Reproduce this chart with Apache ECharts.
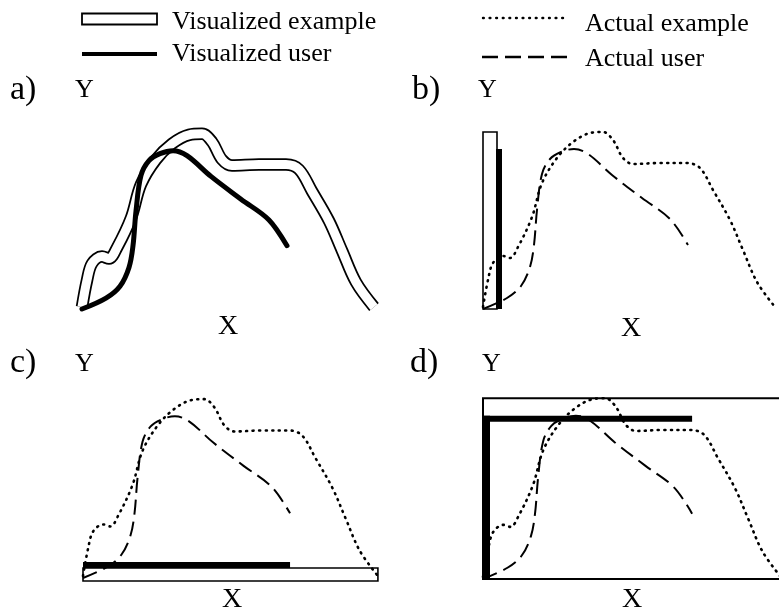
<!DOCTYPE html>
<html>
<head>
<meta charset="utf-8">
<script src="https://cdn.jsdelivr.net/npm/echarts@6/dist/echarts.min.js"></script>
<style>
  html, body { margin: 0; padding: 0; background: #fff; }
  #main { width: 779px; height: 611px; }
</style>
</head>
<body>
<div id="main"></div>
<script>
// example path, read off panel b) (x right, y up)
var exampleX = [0, 5, 10, 20, 27, 35, 49, 59, 74, 90, 107, 120, 130, 140, 150, 177, 204, 217, 230, 247, 260, 274, 292];
var exampleY = [2, 29, 46, 53, 51, 62, 92, 126, 151, 167, 176, 177, 169, 151, 145, 146, 146, 141, 119, 89, 59, 27, 2];
// user path
var userX = [0, 24, 38, 47, 51, 54, 59, 67, 78, 91, 105, 129, 159, 187, 205];
var userY = [0, 11, 23, 42, 64, 99, 135, 150, 157, 160, 155, 134, 111, 90, 64];
var panelNames = ['a)', 'b)', 'c)', 'd)'];
var axisNames = ['X', 'Y'];
var legendNames = ['Visualized example', 'Visualized user', 'Actual example', 'Actual user'];

function pairs(xs, ys) {
    return xs.map(function (x, i) { return [x, ys[i]]; });
}
var exampleData = pairs(exampleX, exampleY);
var userData = pairs(userX, userY);
var exMaxX = Math.max.apply(null, exampleX);
var exMaxY = Math.max.apply(null, exampleY);
var usMaxX = Math.max.apply(null, userX);
var usMaxY = Math.max.apply(null, userY);

var FONT = '"Liberation Serif", "Times New Roman", serif';

var grids = [
    { left: 82, top: 121, width: 300, height: 188 },
    { left: 483, top: 119, width: 300, height: 190 },
    { left: 83, top: 386, width: 303, height: 192 },
    { left: 483, top: 385, width: 306, height: 194 }
].map(function (g) {
    g.outerBoundsMode = 'none';
    g.containLabel = false;
    return g;
});

var xAxes = grids.map(function (g, i) {
    return { type: 'value', gridIndex: i, min: 0, max: 300, show: false };
});
var yAxes = grids.map(function (g, i) {
    return { type: 'value', gridIndex: i, min: 0, max: 190, show: false };
});

function lineSeries(idx, name, data, lineStyle, z) {
    return {
        type: 'line', name: name, xAxisIndex: idx, yAxisIndex: idx,
        data: data, symbol: 'none', smooth: 0.35, clip: false, z: z,
        silent: true, animation: false, lineStyle: lineStyle
    };
}

var dotted = { color: '#000', width: 2.6, type: [1, 5.5], cap: 'round' };
var dashed = { color: '#000', width: 2, type: [15, 7] };

// projections of the two paths
function barsB(params, api) {
    var o = api.coord([0, 0]);
    var ex = api.coord([0, exMaxY]);
    var us = api.coord([0, usMaxY]);
    return { type: 'group', children: [
        { type: 'rect', shape: { x: o[0], y: ex[1], width: 14, height: o[1] - ex[1] },
          style: { fill: '#fff', stroke: '#000', lineWidth: 1.6 } },
        { type: 'rect', shape: { x: o[0] + 13, y: us[1], width: 6, height: o[1] - us[1] },
          style: { fill: '#000' } }
    ] };
}
function barsC(params, api) {
    var o = api.coord([0, 0]);
    var ex = api.coord([exMaxX, 0]);
    var us = api.coord([usMaxX, 0]);
    return { type: 'group', children: [
        { type: 'rect', shape: { x: o[0], y: o[1] - 10, width: ex[0] - o[0], height: 13 },
          style: { fill: '#fff', stroke: '#000', lineWidth: 1.6 } },
        { type: 'rect', shape: { x: o[0], y: o[1] - 16, width: us[0] - o[0], height: 6 },
          style: { fill: '#000' } }
    ] };
}
function barsD(params, api) {
    var o = api.coord([0, 0]);
    var ex = api.coord([exMaxX, exMaxY]);
    var us = api.coord([usMaxX, usMaxY]);
    return { type: 'group', children: [
        { type: 'rect', shape: { x: o[0], y: ex[1], width: ex[0] - o[0], height: o[1] - ex[1] },
          style: { fill: '#fff', stroke: '#000', lineWidth: 2 } },
        { type: 'rect', shape: { x: o[0], y: us[1], width: 7, height: o[1] - us[1] },
          style: { fill: '#000' } },
        { type: 'rect', shape: { x: o[0], y: us[1], width: us[0] - o[0], height: 6 },
          style: { fill: '#000' } }
    ] };
}

var series = [
    lineSeries(0, legendNames[0], exampleData, { color: '#000', width: 12.5 }, 2),
    lineSeries(0, legendNames[0], exampleData, { color: '#fff', width: 9 }, 3),
    lineSeries(0, legendNames[1], userData, { color: '#000', width: 5, cap: 'round' }, 4)
];
[barsB, barsC, barsD].forEach(function (fn, k) {
    var idx = k + 1;
    series.push({
        type: 'custom', xAxisIndex: idx, yAxisIndex: idx, data: [[0, 0]],
        renderItem: fn, z: 1, silent: true, animation: false, clip: false
    });
    series.push(lineSeries(idx, legendNames[2], exampleData, dotted, 3));
    series.push(lineSeries(idx, legendNames[3], userData, dashed, 3));
});

function txt(x, y, s, size, align) {
    return { type: 'text', x: x, y: y, silent: true,
        style: { text: s, fill: '#000', font: size + 'px ' + FONT,
                 textAlign: align || 'left', textVerticalAlign: 'middle' } };
}

var graphics = [
    // legend
    { type: 'rect', shape: { x: 82, y: 13.5, width: 75, height: 11 },
      style: { fill: '#fff', stroke: '#000', lineWidth: 1.8 } },
    { type: 'line', shape: { x1: 82, y1: 54, x2: 157, y2: 54 },
      style: { stroke: '#000', lineWidth: 4 } },
    { type: 'line', shape: { x1: 483, y1: 18, x2: 567, y2: 18 },
      style: { stroke: '#000', lineWidth: 2.4, lineDash: [0.8, 5.8], lineCap: 'round' } },
    { type: 'line', shape: { x1: 482, y1: 57, x2: 567, y2: 57 },
      style: { stroke: '#000', lineWidth: 2.6, lineDash: [16, 7] } },
    txt(172, 22, legendNames[0], 26),
    txt(172, 54, legendNames[1], 26),
    txt(585, 24, legendNames[2], 26),
    txt(585, 59, legendNames[3], 26),
    // panel labels
    txt(10, 90, panelNames[0], 34),
    txt(412, 90, panelNames[1], 34),
    txt(10, 363, panelNames[2], 34),
    txt(410, 363, panelNames[3], 34),
    txt(75, 90, axisNames[1], 26),
    txt(478, 90, axisNames[1], 26),
    txt(75, 364, axisNames[1], 26),
    txt(482, 364, axisNames[1], 26),
    txt(228, 327, axisNames[0], 28, 'center'),
    txt(631, 329, axisNames[0], 28, 'center'),
    txt(232, 600, axisNames[0], 28, 'center'),
    txt(632, 600, axisNames[0], 28, 'center')
];

var myChart = echarts.init(document.getElementById('main'), null, { renderer: 'canvas' });
var option = {
    backgroundColor: '#fff',
    animation: false,
    grid: grids,
    xAxis: xAxes,
    yAxis: yAxes,
    series: series,
    graphic: graphics
};
myChart.setOption(option, true);
</script>
</body>
</html>
